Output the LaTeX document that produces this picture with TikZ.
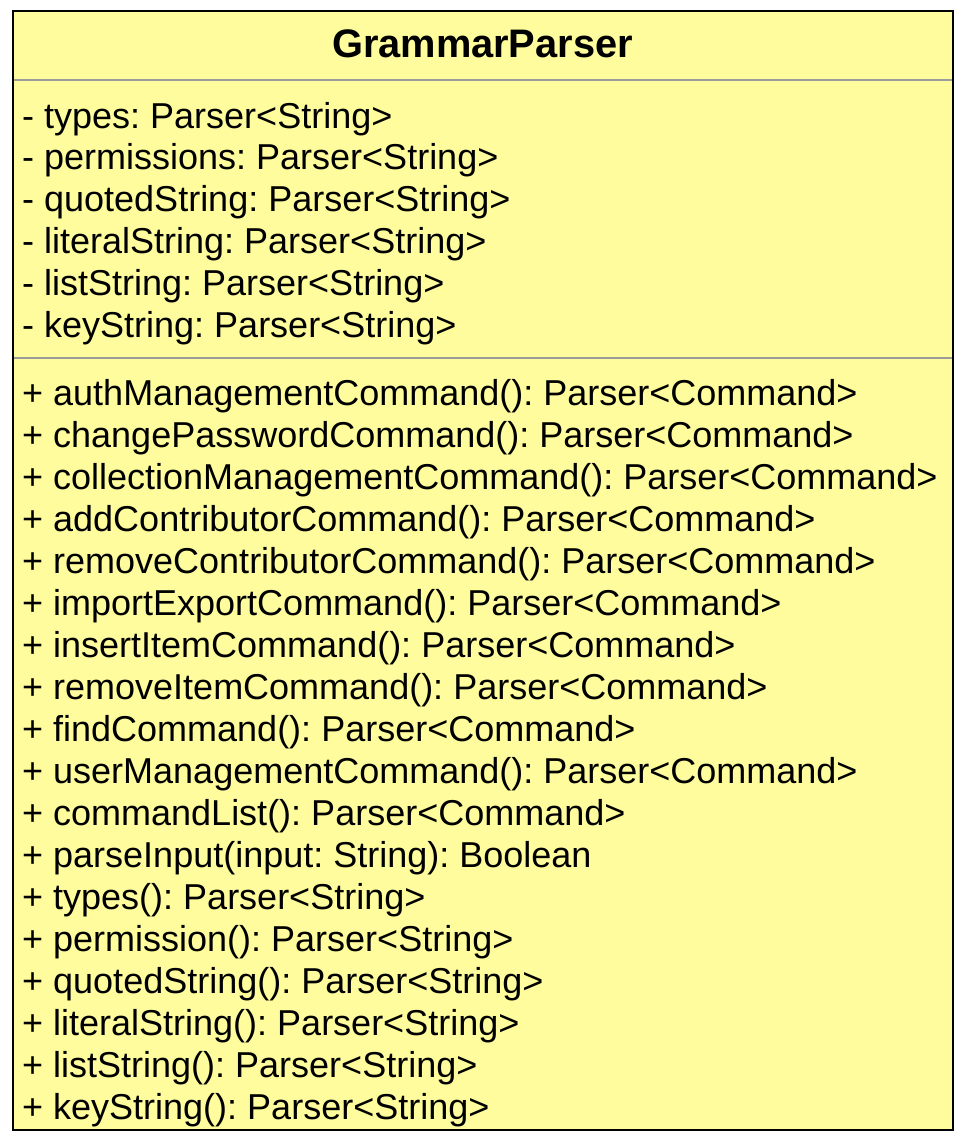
\documentclass[tikz,border=0pt]{standalone}
\usepackage{fontspec}
\setmainfont{Liberation Sans}
\frenchspacing
\usetikzlibrary{positioning}
\pgfdeclarelayer{edgelayer}
\pgfdeclarelayer{nodelayer}
\pgfsetlayers{edgelayer,nodelayer,main}
\definecolor{classfill}{RGB}{254,252,156}
\definecolor{sepgray}{RGB}{155,155,155}
\tikzstyle{classbox}=[fill=classfill,draw=black,line width=2.6pt]
\tikzstyle{separator}=[draw=sepgray,line width=1.6pt]
\tikzstyle{title}=[inner sep=0pt,anchor=base,font=\fontsize{39.8}{42}\selectfont\bfseries]
\tikzstyle{member}=[inner sep=0pt,anchor=base west,font=\fontsize{36}{42}\selectfont]

\begin{document}
\begin{tikzpicture}[x=1pt,y=-1pt]
	\useasboundingbox (0,0) rectangle (962,1138);
	\begin{pgfonlayer}{edgelayer}
		\draw [style=classbox] (13,11) rectangle (953,1130);
		\draw [style=separator] (14,80) -- (952,80);
		\draw [style=separator] (14,358) -- (952,358);
	\end{pgfonlayer}
	\begin{pgfonlayer}{nodelayer}
		\node [style=title] (0) at (482.5,57) {GrammarParser};
		\foreach \txt [count=\i] in {
			{- types: Parser<String>},
			{- permissions: Parser<String>},
			{- quotedString: Parser<String>},
			{- literalString: Parser<String>},
			{- listString: Parser<String>},
			{- keyString: Parser<String>}}
			\node [style=member] (\i) at (22,{128+41.8*(\i-1)}) {\txt};
		\foreach \txt [count=\i from 7] in {
			{+ authManagementCommand(): Parser<Command>},
			{+ changePasswordCommand(): Parser<Command>},
			{+ collectionManagementCommand(): Parser<Command>},
			{+ addContributorCommand(): Parser<Command>},
			{+ removeContributorCommand(): Parser<Command>},
			{+ importExportCommand(): Parser<Command>},
			{+ insertItemCommand(): Parser<Command>},
			{+ removeItemCommand(): Parser<Command>},
			{+ findCommand(): Parser<Command>},
			{+ userManagementCommand(): Parser<Command>},
			{+ commandList(): Parser<Command>},
			{+ parseInput(input: String): Boolean},
			{+ types(): Parser<String>},
			{+ permission(): Parser<String>},
			{+ quotedString(): Parser<String>},
			{+ literalString(): Parser<String>},
			{+ listString(): Parser<String>},
			{+ keyString(): Parser<String>}}
			\node [style=member] (\i) at (22,{405+42*(\i-7)}) {\txt};
	\end{pgfonlayer}
\end{tikzpicture}
\end{document}
